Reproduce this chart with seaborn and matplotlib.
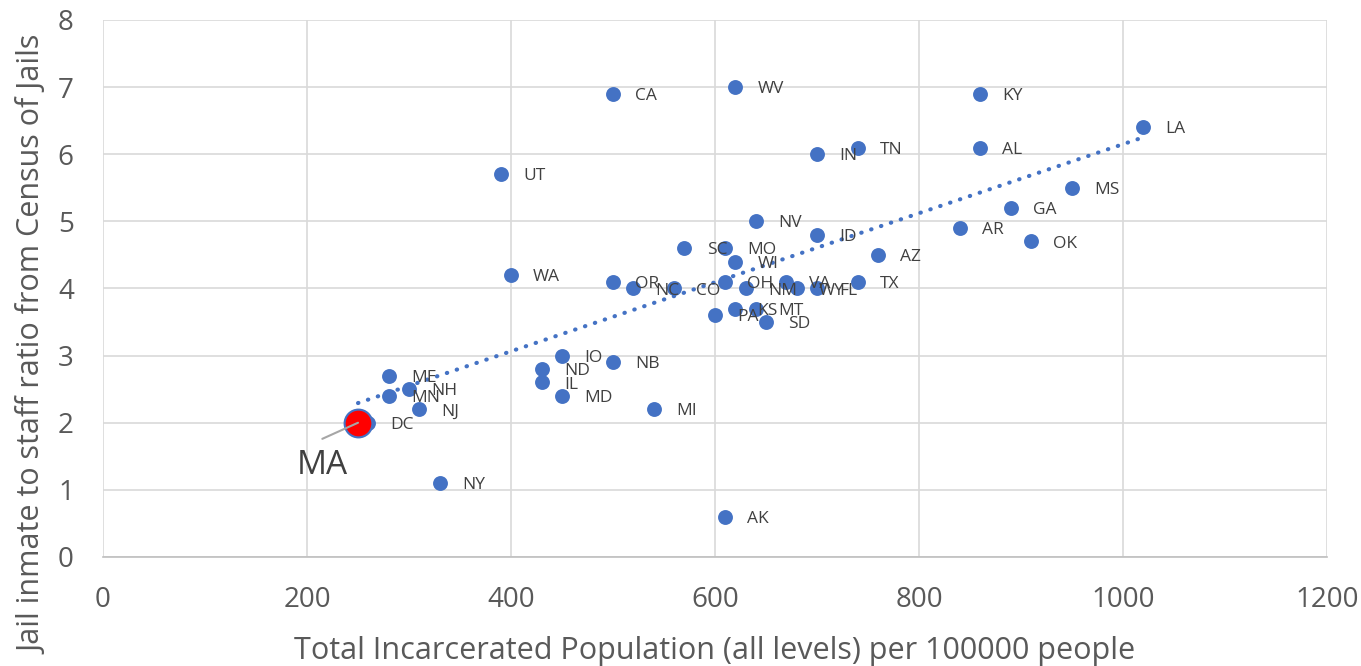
import numpy as np
import pandas as pd
import matplotlib.pyplot as plt
import seaborn as sns

# state codes, incarceration per 100k, jail inmate/staff ratio
states = ['CA', 'WV', 'KY', 'LA', 'IN', 'TN', 'AL', 'UT', 'MS', 'GA',
          'NV', 'AR', 'ID', 'OK', 'SC', 'MO', 'AZ', 'WI', 'WA', 'OR',
          'OH', 'VA', 'TX', 'NC', 'CO', 'NM', 'WY', 'FL', 'KS', 'MT',
          'PA', 'SD', 'IO', 'NB', 'ND', 'ME', 'IL', 'NH', 'MN', 'MD',
          'NJ', 'MI', 'DC', 'MA', 'NY', 'AK']
incarcerated = [500, 620, 860, 1020, 700, 740, 860, 390, 950, 890,
                640, 840, 700, 910, 570, 610, 760, 620, 400, 500,
                610, 670, 740, 520, 560, 630, 680, 700, 620, 640,
                600, 650, 450, 500, 430, 280, 430, 300, 280, 450,
                310, 540, 260, 250, 330, 610]
ratio = [6.9, 7.0, 6.9, 6.4, 6.0, 6.1, 6.1, 5.7, 5.5, 5.2,
         5.0, 4.9, 4.8, 4.7, 4.6, 4.6, 4.5, 4.4, 4.2, 4.1,
         4.1, 4.1, 4.1, 4.0, 4.0, 4.0, 4.0, 4.0, 3.7, 3.7,
         3.6, 3.5, 3.0, 2.9, 2.8, 2.7, 2.6, 2.5, 2.4, 2.4,
         2.2, 2.2, 2.0, 2.0, 1.1, 0.6]
highlight = 'MA'
# where the big MA callout text sits, and where its leader line starts
ma_text_pos = (215, 1.37)
ma_line_start = (215, 1.76)

x_ticks = [0, 200, 400, 600, 800, 1000, 1200]
y_ticks = [0, 1, 2, 3, 4, 5, 6, 7, 8]

df = pd.DataFrame({'state': states, 'pop': incarcerated, 'ratio': ratio})
others = df[df['state'] != highlight]
hl = df[df['state'] == highlight]

blue = '#4472C4'
txt = '#404040'
grey = '#595959'

sns.set_style('whitegrid')
plt.rcParams['font.family'] = ['Open Sans', 'DejaVu Sans']

fig, ax = plt.subplots(figsize=(13.61, 6.66), dpi=100)
fig.subplots_adjust(left=0.0757, right=0.975, bottom=0.1637, top=0.97)

# linear trendline (dotted), drawn under the points
sns.regplot(data=df, x='pop', y='ratio', scatter=False, ci=None, truncate=True,
            color=blue, ax=ax,
            line_kws=dict(linestyle=(0, (0.1, 2.4)), lw=3, dash_capstyle='round', zorder=2))

sns.scatterplot(data=others, x='pop', y='ratio', s=115, color=blue, linewidth=0,
                ax=ax, zorder=3)
sns.scatterplot(data=hl, x='pop', y='ratio', s=400, color='red', edgecolor=blue,
                linewidth=1.5, ax=ax, zorder=4)

for _, r in others.iterrows():
    ax.annotate(r['state'], (r['pop'], r['ratio']), xytext=(16, -1.5),
                textcoords='offset points', ha='left', va='center',
                fontsize=12.5, color=txt, zorder=5)

r = hl.iloc[0]
ax.annotate('', (r['pop'], r['ratio']), xytext=ma_line_start, zorder=5,
            arrowprops=dict(arrowstyle='-', color='#a6a6a6', lw=1.5,
                            shrinkA=0, shrinkB=0))
ax.text(ma_text_pos[0], ma_text_pos[1], r['state'], ha='center', va='center',
        fontsize=24, color=txt, zorder=5)

ax.set_xlim(x_ticks[0], x_ticks[-1])
ax.set_ylim(y_ticks[0], y_ticks[-1])
ax.set_xticks(x_ticks)
ax.set_yticks(y_ticks)
ax.grid(True, color='#d9d9d9', lw=1.2)
ax.set_axisbelow(True)
for side in ['left', 'top', 'right']:
    ax.spines[side].set_visible(False)
ax.spines['bottom'].set_color('#bfbfbf')
ax.spines['bottom'].set_linewidth(1.2)

ax.tick_params(axis='both', labelsize=20, colors=grey, length=0)
ax.tick_params(axis='y', pad=21)
ax.tick_params(axis='x', pad=21)

ax.set_xlabel('Total Incarcerated Population (all levels) per 100000 people',
              fontsize=22, color=grey, labelpad=16)
ax.set_ylabel('Jail inmate to staff ratio from Census of Jails',
              fontsize=22, color=grey)
# Excel centres the title on the chart area rather than the plot area
ax.yaxis.set_label_coords(-0.0445, 0.396)

fig.savefig('out.png', dpi=100)
